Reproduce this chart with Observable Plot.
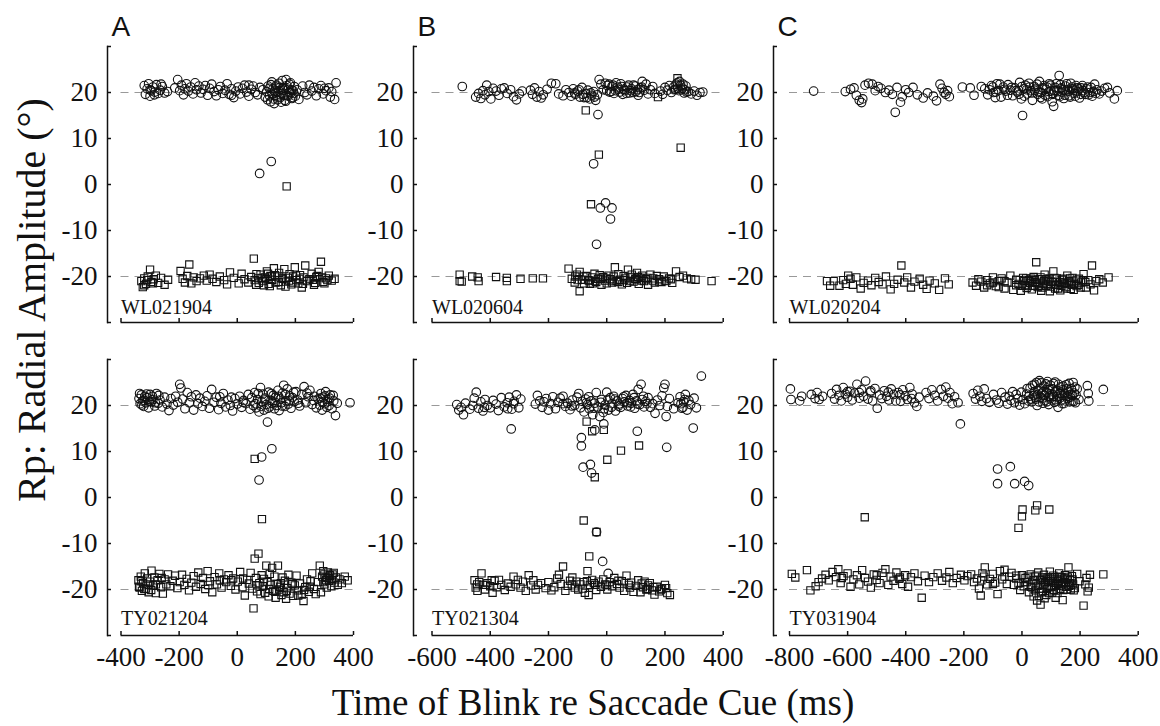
<!DOCTYPE html>
<html>
<head>
<meta charset="utf-8">
<script src="https://cdn.jsdelivr.net/npm/d3@7"></script>
<script src="https://cdn.jsdelivr.net/npm/@observablehq/plot@0.6"></script>
<style>
  html, body { margin: 0; padding: 0; background: #fff; }
  #fig { position: relative; width: 1160px; height: 726px; overflow: hidden; background: #fff;
         font-family: "Liberation Serif", "Times New Roman", serif; color: #111; }
  .panel { position: absolute; }
  .panel svg text { font-family: "Liberation Serif", "Times New Roman", serif; }
  .panel svg text.letter { font-family: "Liberation Sans", Arial, sans-serif; }
  #xlabel { position: absolute; left: 193px; width: 800px; top: 684px; text-align: center;
            font-size: 37px; line-height: 1; white-space: nowrap; }
  #ylabel { position: absolute; left: -268px; top: 280px; width: 600px; height: 40px; line-height: 40px;
            text-align: center; font-size: 40px; white-space: nowrap; transform: rotate(-90deg); }
</style>
</head>
<body>
<div id="fig">
  <div id="xlabel">Time of Blink re Saccade Cue (ms)</div>
  <div id="ylabel">Rp: Radial Amplitude (°)</div>
</div>
<script>
// ---------- data ----------
const yDomain = [-30, 30];
const yTicks = [-30, -20, -10, 0, 10, 20, 30];
const refLevels = [-20, 20];
const panelLetters = ["A", "B", "C"];
const xDomainA = [-400, 400];
const xDomainB = [-600, 400];
const xDomainC = [-800, 400];
const xTicksA = [-400, -200, 0, 200, 400];
const xTicksB = [-600, -400, -200, 0, 200, 400];
const xTicksC = [-800, -600, -400, -200, 0, 200, 400];
const sessionsTop = ["WL021904", "WL020604", "WL020204"];
const sessionsBottom = ["TY021204", "TY021304", "TY031904"];

// Panel A, top (WL021904)
const A1_circles = [[-320,21.5],[-316,19.6],[-310,20.8],[-305,21.9],[-300,19.2],[-296,20.4],[-290,21.2],[-284,20.1],[-278,21.7],[-272,19.8],[-265,20.5],[-258,21.3],[-250,19.9],[-240,20.2],
[-215,21.0],[-205,22.8],[-198,20.4],[-192,21.6],[-185,19.5],[-180,20.8],[-175,21.9],[-168,20.3],[-160,21.2],[-152,19.7],[-145,22.1],[-140,20.6],[-132,21.4],[-125,19.9],[-118,20.7],[-110,21.5],[-102,19.4],[-95,20.9],[-88,21.8],[-80,20.2],[-72,19.3],[-65,20.6],[-58,21.3],[-50,19.8],[-42,20.5],[-35,21.9],[-28,19.6],[-20,20.8],[-12,18.9],[-5,20.3],[3,21.2],[10,19.7],[18,20.9],[25,21.6],[32,20.1],[40,19.2],[48,20.7],[55,21.4],[62,20.0],[70,19.5],[78,21.1],
[88,20.6],[96,19.0],[104,18.4],[110,20.9],[116,21.7],[120,19.6],[124,18.6],[128,20.3],[132,21.2],[136,19.1],[140,20.0],[144,22.0],[148,18.9],[152,19.8],[156,21.0],[160,20.5],[164,18.3],[168,22.8],[172,19.4],[176,20.7],[180,21.8],[184,19.9],[188,18.7],[192,20.4],[196,21.3],[200,19.2],[206,20.6],[212,18.5],
[225,21.4],[232,20.0],[240,19.5],[248,21.6],[256,20.3],[264,21.1],[272,19.3],[280,20.8],[288,21.5],[296,19.7],[305,20.4],[315,21.0],[325,20.2],[335,18.5],[340,22.1],
[101,20.2],[106,21.4],[111,19.3],[115,18.0],[119,22.3],[123,20.8],[127,17.6],[131,19.9],[135,21.6],[139,18.4],[143,20.4],[147,21.1],[151,17.9],[155,22.6],[159,19.4],[163,20.9],[167,18.1],[171,21.5],[175,19.2],[179,20.1],[183,22.1],[187,20.6],[191,18.9],[195,19.8],[-300,20.6],[-285,19.5],[-262,21.8],[-20,19.4],[40,21.6],[300,20.9],[320,19.0],
[77,2.4],[117,5.0]];
const A1_squares = [[-330,-21.0],[-325,-22.3],[-320,-20.4],[-314,-21.6],[-308,-20.0],[-300,-18.5],[-295,-21.2],[-288,-20.6],[-280,-19.8],[-272,-21.4],[-262,-20.3],[-250,-21.8],[-238,-20.7],
[-195,-18.8],[-188,-20.5],[-180,-21.3],[-172,-19.9],[-165,-17.4],[-158,-21.5],[-150,-20.2],[-140,-21.0],[-128,-20.4],[-115,-19.8],[-105,-20.9],[-95,-19.6],[-85,-20.5],[-72,-21.2],[-60,-20.0],[-45,-20.8],[-35,-21.7],[-25,-19.1],[-12,-20.3],
[5,-21.5],[15,-19.4],[25,-20.6],[38,-21.3],[48,-20.1],[57,-16.1],[65,-21.8],[72,-20.4],[80,-19.6],[88,-21.0],[95,-20.2],[102,-18.9],[108,-21.6],[114,-19.9],[120,-20.7],[126,-18.2],[132,-21.3],[138,-20.0],[144,-19.2],[150,-21.9],[156,-20.5],[162,-18.4],[168,-21.1],[174,-20.3],[180,-19.5],[186,-21.7],[192,-20.0],[198,-18.0],[204,-20.8],[210,-21.5],[216,-19.7],[222,-22.4],[228,-20.2],[234,-17.6],[240,-21.0],[248,-20.6],[256,-19.4],[264,-21.8],[272,-20.1],[280,-19.0],[288,-16.8],[296,-21.2],[305,-20.4],[315,-19.8],[325,-20.9],[335,-20.5],
[60,-20.8],[66,-19.5],[74,-21.4],[84,-20.3],[92,-21.9],[100,-20.6],[106,-19.4],[112,-22.1],[118,-20.0],[130,-19.7],[142,-21.2],[154,-20.3],[166,-22.2],[178,-20.9],[190,-21.3],[202,-19.8],[214,-20.5],[226,-21.6],[260,-20.7],[268,-21.4],[276,-19.9],[292,-20.2],[300,-21.5],[310,-20.8],[-320,-21.9],[-310,-20.8],[-290,-21.5],
[170,-0.4]];

// Panel A, bottom (TY021204)
const A2_circles = [[-338,21.5],[-334,20.4],[-330,22.3],[-326,21.0],[-322,19.8],[-318,22.0],[-314,20.6],[-310,21.7],[-305,19.5],[-300,22.4],[-295,20.8],[-290,21.3],[-284,19.9],[-278,22.6],[-272,20.5],[-266,21.2],[-258,19.7],[-250,21.8],[-242,20.3],[-235,18.9],[-228,21.5],[-220,20.1],[-212,22.0],[-205,20.7],[-198,24.6],[-194,23.8],[-188,21.4],[-180,19.3],[-172,22.8],[-165,20.6],[-158,21.9],[-150,19.0],[-142,22.3],[-135,20.4],[-128,21.6],[-120,19.8],[-112,20.9],[-104,22.1],[-96,19.4],[-88,23.5],[-80,20.7],[-72,21.8],[-64,19.1],[-56,20.5],[-48,22.6],[-40,19.7],[-32,21.2],[-24,20.0],[-16,18.8],[-8,21.5],[0,20.3],[8,22.0],[15,19.6],[22,21.1],[30,20.4],[38,22.4],[44,19.2],[50,21.7],[55,20.0],[60,22.8],[65,19.5],[70,21.3],[75,18.6],[80,23.9],[84,20.8],[88,22.5],[92,19.0],[96,21.6],[100,20.2],[104,16.4],[108,22.9],[112,19.7],[116,21.1],[120,20.5],[124,22.2],[128,19.3],[132,21.8],[136,20.0],[140,23.3],[144,18.9],[148,21.4],[152,20.6],[156,22.7],[160,24.4],[164,19.8],[168,21.0],[172,23.6],[176,20.3],[180,22.1],[185,19.4],[190,21.7],[196,20.8],[202,23.0],[208,21.2],[215,19.9],[222,22.4],[230,24.1],[236,20.6],[244,21.9],[250,23.3],[258,20.2],[265,22.0],[272,19.5],[278,21.4],[284,20.1],[288,22.6],[292,19.0],[296,21.8],[300,20.4],[304,23.0],[308,19.6],[312,21.3],[316,20.0],[320,22.3],[326,19.3],[332,21.0],[338,17.8],[344,20.5],[388,20.6],
[-336,22.6],[-328,20.1],[-320,21.1],[-312,22.5],[-302,20.9],[-292,22.0],[-282,20.6],[-270,22.2],[62,20.4],[72,22.6],[82,19.8],[94,21.2],[106,19.4],[118,22.6],[130,20.7],[142,22.0],[154,19.9],[166,22.4],[178,21.0],[194,22.9],[210,20.5],[240,22.7],[262,21.1],[286,21.6],[294,20.7],[302,22.1],[310,20.8],[318,21.6],[330,22.2],[-60,21.9],[-20,21.8],[20,20.7],
[84,8.8],[119,10.6],[75,3.8]];
const A2_squares = [[-340,-18.0],[-336,-19.6],[-332,-17.2],[-328,-20.3],[-324,-18.6],[-318,-16.5],[-314,-19.8],[-310,-17.6],[-305,-20.6],[-300,-18.3],[-295,-15.9],[-290,-19.1],[-285,-17.4],[-280,-20.8],[-274,-18.0],[-268,-16.6],[-262,-19.5],[-256,-20.9],[-250,-17.8],[-244,-18.9],[-238,-16.7],[-230,-19.3],[-222,-18.1],[-214,-17.0],[-206,-19.7],[-198,-18.4],[-190,-16.8],[-182,-19.0],[-174,-17.7],[-166,-20.2],[-158,-18.5],[-150,-17.1],[-142,-19.4],[-134,-16.3],[-126,-18.8],[-118,-17.5],[-110,-19.9],[-102,-16.0],[-94,-18.2],[-86,-20.6],[-78,-17.3],[-70,-18.9],[-62,-16.5],[-54,-19.6],[-46,-17.8],[-38,-18.4],[-30,-16.9],[-22,-19.2],[-14,-17.6],[-6,-20.0],[2,-18.3],[10,-16.2],[18,-19.5],[26,-21.3],[34,-17.9],[40,-18.7],[46,-16.4],[52,-19.8],[56,-24.1],[60,-13.3],[64,-17.5],[68,-20.4],[73,-12.2],[76,-18.6],[80,-21.0],[84,-16.9],[88,-19.3],[92,-17.7],[96,-20.7],[100,-14.8],[104,-18.4],[108,-21.5],[112,-16.6],[116,-19.0],[120,-15.3],[124,-20.3],[128,-17.2],[132,-21.8],[136,-18.8],[140,-14.8],[144,-20.0],[148,-19.4],[152,-21.2],[156,-17.4],[160,-20.6],[164,-18.1],[168,-22.0],[172,-19.7],[176,-16.8],[180,-20.9],[186,-18.5],[192,-21.4],[198,-19.1],[204,-17.0],[210,-20.2],[216,-18.7],[222,-21.1],[228,-22.5],[234,-19.5],[240,-17.8],[246,-20.5],[252,-18.2],[258,-16.5],[264,-19.9],[270,-21.0],[278,-18.4],[284,-14.8],[288,-20.6],[292,-17.2],[296,-16.0],[300,-18.9],[304,-17.4],[308,-19.6],[312,-16.3],[316,-18.1],[320,-17.0],[324,-19.3],[328,-16.7],[334,-18.5],[340,-17.4],[346,-19.0],[352,-17.8],[360,-18.6],[370,-17.2],[380,-18.0],
[-338,-19.4],[-330,-18.2],[-320,-19.9],[-308,-18.9],[-296,-20.1],[-280,-18.9],[-260,-17.5],[70,-19.1],[90,-18.3],[110,-19.9],[130,-20.5],[150,-18.6],[170,-20.3],[190,-18.8],[210,-21.3],[230,-20.1],[250,-19.4],[296,-18.4],[300,-16.7],[306,-18.0],[310,-17.5],[318,-16.9],[326,-18.0],[332,-16.4],[-100,-19.0],[-60,-18.0],[-20,-18.0],[20,-17.6],
[60,8.4],[85,-4.7]];

// Panel B, top (WL020604)
const B1_circles = [[-496,21.3],
[-450,19.0],[-440,19.8],[-432,18.7],[-425,20.4],[-418,19.5],[-412,21.6],[-405,20.2],[-398,18.6],[-390,20.9],[-380,20.3],[-370,19.4],[-362,20.8],[-352,21.0],[-342,19.8],[-330,20.6],[-320,19.1],[-310,18.4],[-300,19.7],[-290,20.3],
[-262,20.5],[-255,19.6],[-248,21.0],[-240,19.0],[-232,20.2],[-225,18.8],[-218,19.5],[-205,20.7],[-190,22.0],[-175,21.9],[-165,19.7],
[-150,19.3],[-140,20.6],[-130,20.0],[-122,19.2],[-115,20.8],[-108,19.6],[-100,20.3],[-92,19.0],[-85,21.1],[-78,18.9],[-72,19.8],[-65,20.5],[-58,18.6],[-52,19.4],[-45,20.2],[-38,18.3],[-32,19.5],[-26,22.8],
[-20,21.8],[-12,20.6],[-5,22.0],[2,21.5],[10,20.1],[18,21.3],[25,19.8],[32,22.1],[40,20.7],[48,21.9],[55,19.6],[62,20.4],[70,21.2],[78,19.9],[85,20.8],[92,21.6],[100,20.2],[108,19.4],[115,21.0],[122,22.4],[128,20.5],[135,21.8],[142,19.7],[150,20.6],[158,21.3],[165,19.8],
[185,20.3],[192,19.6],[200,21.1],[208,20.5],[215,21.5],[222,20.0],[230,21.2],[236,20.7],[242,22.1],[248,20.4],[254,21.6],[260,20.9],[266,19.9],[272,21.4],[280,20.2],[290,19.7],[300,20.3],[310,19.4],[320,20.0],[330,20.1],
[-110,19.9],[-95,20.6],[-82,19.6],[-68,18.9],[-55,19.9],[-42,19.0],[0,20.4],[8,21.8],[15,20.2],[22,21.6],[30,20.4],[38,21.2],[45,20.1],[52,21.3],[60,20.7],[68,19.8],[75,21.6],[82,20.4],[90,20.0],[98,21.4],[105,20.6],[112,20.0],[120,21.2],[232,20.6],[238,21.8],[244,20.9],[250,22.4],[256,20.6],[262,21.8],[268,20.6],[274,20.1],
[-30,15.2],[-45,4.5],[-22,-5.1],[-4,-4.0],[18,-5.1],[13,-7.5],[-35,-13.0]];
const B1_squares = [[-505,-19.6],[-505,-21.0],[-498,-21.1],[-462,-20.0],[-443,-20.2],[-440,-21.0],[-380,-20.1],[-343,-20.3],[-343,-21.0],[-296,-20.5],[-254,-20.4],[-219,-20.4],
[-131,-18.3],[-120,-20.5],[-110,-21.3],[-102,-19.6],[-93,-23.2],[-93,-19.0],[-85,-20.7],[-78,-21.5],[-70,-19.9],[-64,-20.8],[-58,-21.6],[-50,-20.2],[-42,-19.4],[-36,-21.2],[-30,-20.5],[-24,-19.7],[-18,-21.8],[-12,-20.1],[-6,-20.9],[0,-21.5],[6,-19.8],[12,-20.6],[18,-21.3],[24,-20.0],[28,-18.0],[34,-21.0],[40,-19.5],[46,-20.7],[52,-21.7],[58,-19.9],[64,-20.4],[70,-21.4],[73,-18.5],[80,-20.2],[86,-19.6],[92,-21.1],[98,-20.5],[104,-19.2],[110,-21.6],[116,-20.3],[122,-19.8],[128,-21.0],[135,-20.6],[142,-21.8],[150,-19.6],[158,-20.9],[165,-21.3],[172,-19.9],[180,-20.6],[188,-21.2],[196,-20.0],[205,-21.0],[214,-20.4],[225,-21.4],[238,-18.9],[250,-20.1],[262,-19.8],[275,-20.4],[290,-20.6],[305,-20.7],[360,-21.0],
[-100,-20.8],[-80,-20.0],[-60,-20.9],[-40,-21.0],[-20,-20.5],[0,-20.4],[20,-20.9],[40,-21.2],[60,-20.8],[80,-21.0],[100,-20.6],[120,-20.9],[140,-20.3],[160,-20.4],[180,-21.1],[200,-20.9],[220,-20.6],[-108,-20.0],[-48,-21.5],[108,-20.1],
[-72,16.1],[-27,6.5],[-54,-4.3],[254,8.0],[176,19.0],[243,23.1]];

// Panel B, bottom (TY021304)
const B2_circles = [[-515,20.2],[-508,19.0],[-500,19.6],[-492,18.0],[-485,20.5],[-470,19.2],[-455,21.6],[-448,22.9],[-440,19.4],[-432,20.8],[-425,18.8],[-418,21.3],[-410,20.0],[-400,19.5],[-390,21.1],[-380,20.3],[-372,18.9],[-362,21.7],[-352,19.7],[-342,20.6],[-335,21.8],[-326,19.2],[-318,20.9],[-310,22.3],[-302,19.5],[-295,21.4],
[-245,20.3],[-238,22.2],[-230,21.0],[-222,19.6],[-215,20.8],[-208,21.5],[-200,19.0],[-192,20.4],[-185,21.9],[-176,19.3],[-168,20.7],[-160,21.6],[-150,22.0],[-142,19.8],[-134,20.5],[-126,19.1],[-118,21.2],[-110,20.0],[-102,21.8],[-96,22.6],[-90,19.5],[-84,20.9],[-78,18.6],[-72,21.4],[-66,20.2],[-60,19.3],[-54,21.0],[-48,18.0],[-42,20.5],[-36,22.8],[-30,19.7],[-24,17.6],[-18,21.3],[-12,18.5],[-6,20.1],[0,22.9],[6,19.0],[12,21.7],[18,20.4],[24,22.0],[30,18.8],[36,21.0],[42,20.3],[48,19.6],[54,21.5],[60,20.8],[66,22.2],[72,19.9],[78,21.1],[84,20.5],[90,22.4],[96,19.4],[102,21.0],[108,23.5],[114,20.2],[118,24.6],[122,21.3],[128,19.7],[134,20.9],[142,21.7],[150,19.6],[158,20.4],[166,18.3],[174,21.2],[182,20.0],[190,22.1],[196,23.8],[200,24.6],[204,17.6],[208,19.8],[215,21.5],[230,19.3],[245,20.6],[252,21.9],[258,19.4],[264,20.8],[270,22.4],[276,19.0],[282,21.1],[288,20.2],[300,21.6],[308,19.5],
[-70,20.6],[-62,21.9],[-44,19.4],[-20,20.7],[-8,19.3],[4,21.3],[16,19.6],[28,21.4],[40,19.9],[58,21.9],[70,20.6],[82,19.7],[94,21.7],[106,20.3],[126,22.0],[138,20.4],[-460,20.0],[-420,19.6],[-340,19.3],[-320,20.4],[-150,20.4],[-120,19.9],[255,20.4],[262,19.6],[268,21.3],
[325,26.4],[297,15.1],[-328,14.9],[105,14.4],[206,10.9],
[-87,13.0],[-87,11.2],[-81,6.6],[-56,7.2],[-52,5.3],[-41,14.7],[-10,16.0],[-35,-7.5],[-14,-13.9],[5,-16.5]];
const B2_squares = [[-454,-18.0],[-450,-19.6],[-444,-20.3],[-438,-18.4],[-430,-16.5],[-425,-19.0],[-418,-20.0],[-410,-18.6],[-400,-19.3],[-392,-20.7],[-385,-18.1],[-378,-19.5],[-370,-17.9],[-362,-19.0],[-350,-20.1],[-340,-18.7],[-330,-19.4],[-320,-17.2],[-312,-18.9],[-305,-17.9],[-296,-19.6],[-288,-18.3],[-278,-20.3],[-268,-16.9],[-260,-19.1],[-252,-18.0],[-244,-20.0],[-236,-19.0],[-226,-18.6],[-210,-19.7],[-200,-18.4],[-190,-20.2],[-180,-19.5],[-170,-17.6],[-164,-16.8],[-158,-18.8],[-150,-15.0],[-142,-20.3],[-134,-19.2],[-126,-18.1],[-118,-17.4],[-110,-19.6],[-104,-18.3],[-98,-20.0],[-90,-18.9],[-82,-19.8],[-75,-20.7],[-68,-18.2],[-62,-21.2],[-58,-19.0],[-50,-17.9],[-44,-18.6],[-36,-20.1],[-28,-18.3],[-20,-19.4],[-12,-17.8],[-5,-18.9],[2,-20.0],[10,-18.4],[18,-19.3],[26,-17.5],[35,-18.8],[44,-19.6],[52,-18.2],[60,-20.3],[68,-17.0],[76,-19.0],[84,-18.5],[92,-20.5],[100,-19.2],[108,-18.0],[116,-20.6],[124,-19.5],[130,-18.3],[136,-20.0],[142,-19.1],[148,-18.6],[156,-20.2],[164,-21.1],[172,-19.4],[180,-20.4],[190,-19.8],[200,-19.0],[208,-20.8],[217,-21.2],
[-445,-18.9],[-415,-19.0],[-395,-18.0],[-120,-18.9],[-80,-18.4],[-40,-19.0],[0,-19.0],[40,-18.1],[80,-19.6],[120,-18.7],[140,-19.9],[160,-19.5],[186,-20.0],[204,-19.7],
[-69,16.5],[-50,14.4],[-10,14.7],[2,8.2],[49,10.2],[111,11.3],[-41,4.4],[-79,-5.0],[-35,-7.5],[-60,-12.8],[-66,-16.0]];

// Panel C, top (WL020204)
const C1_circles = [[-717,20.3],
[-608,20.2],[-590,20.7],[-578,21.0],[-570,19.4],[-560,18.3],[-552,17.8],[-548,18.6],[-540,21.6],[-528,22.0],[-515,21.8],[-505,20.4],[-495,21.3],[-485,20.9],[-470,20.0],[-458,20.5],[-446,19.6],[-436,15.7],[-430,21.1],[-418,17.9],[-412,19.1],[-400,20.6],[-390,20.0],[-375,21.1],[-360,19.5],[-340,18.8],[-325,19.9],[-305,19.2],[-294,18.2],[-282,21.8],[-275,20.9],[-268,20.0],[-262,19.6],[-256,20.4],[-250,19.1],
[-205,21.2],[-178,21.0],[-165,19.4],[-140,21.3],[-128,20.8],[-118,19.5],[-112,20.6],[-105,21.5],[-98,20.0],[-92,18.9],[-86,21.9],[-80,20.4],[-72,19.0],[-64,21.2],[-56,20.3],[-48,21.7],[-40,20.5],[-32,19.3],[-24,21.0],[-16,20.1],[-8,22.2],[-2,18.6],[2,15.0],[6,20.8],[12,21.6],[18,19.7],[24,22.0],[30,20.4],[36,18.3],[42,21.3],[48,20.9],[54,19.6],[60,22.4],[66,20.0],[70,18.6],[76,21.5],[82,20.7],[88,19.1],[94,21.9],[100,20.3],[104,18.0],[109,17.0],[114,21.1],[120,20.5],[128,23.7],[126,19.4],[132,21.7],[138,20.1],[144,18.7],[150,21.4],[156,20.6],[162,19.3],[168,22.0],[174,20.8],[180,19.8],[186,21.5],[192,20.2],[198,18.8],[204,21.0],[210,20.4],[218,19.6],[226,21.2],[234,20.0],[242,19.2],[250,21.8],[258,20.6],[266,19.7],[274,20.3],[284,20.9],[294,21.1],[302,19.9],[318,18.6],[328,20.4],
[-100,21.2],[-90,20.1],[-76,21.8],[-60,20.7],[-50,19.4],[-36,21.1],[-20,20.4],[-10,19.6],[0,21.3],[8,19.2],[16,20.6],[26,21.2],[34,19.9],[44,20.5],[52,21.8],[58,20.1],[64,18.9],[72,21.0],[80,19.4],[86,21.2],[92,20.2],[98,21.6],[106,19.6],[112,20.4],[118,21.9],[124,20.2],[130,19.1],[136,21.0],[142,20.6],[148,19.4],[154,21.9],[160,20.3],[166,19.0],[172,21.2],[178,20.5],[184,19.2],[190,21.0],[196,20.8],[202,19.6],[208,21.5],[214,20.0],[222,20.8],[230,19.5],[238,21.1],[246,20.2],[254,19.8]];
const C1_squares = [[-671,-21.0],[-660,-22.0],[-648,-21.0],[-628,-22.0],[-615,-20.8],[-606,-21.6],[-598,-19.8],[-590,-20.5],[-582,-21.8],[-570,-20.2],[-555,-22.6],[-545,-21.4],[-530,-20.9],[-518,-21.9],[-505,-20.3],[-493,-21.2],[-480,-21.7],[-468,-20.0],[-452,-22.8],[-440,-21.6],[-428,-20.7],[-415,-17.6],[-405,-21.3],[-395,-20.2],[-382,-22.4],[-370,-21.1],[-352,-20.5],[-340,-21.8],[-328,-22.7],[-318,-20.9],[-300,-21.5],[-285,-22.9],[-265,-20.4],[-252,-21.7],
[-170,-21.3],[-158,-22.0],[-150,-20.6],[-140,-21.1],[-130,-22.4],[-120,-20.8],[-110,-21.5],[-100,-20.2],[-90,-22.1],[-80,-21.0],[-70,-20.4],[-60,-22.6],[-50,-21.3],[-40,-19.8],[-30,-22.9],[-20,-20.7],[-12,-21.6],[-4,-23.1],[4,-20.3],[10,-21.9],[16,-22.5],[22,-20.8],[28,-21.4],[34,-22.8],[40,-20.1],[46,-21.2],[49,-16.9],[54,-22.3],[60,-20.6],[66,-23.1],[72,-21.5],[78,-19.6],[84,-22.0],[90,-20.9],[96,-23.2],[102,-21.2],[108,-18.9],[114,-22.6],[120,-20.4],[126,-21.8],[132,-23.0],[138,-20.7],[144,-21.4],[150,-22.3],[156,-19.8],[162,-21.0],[168,-22.7],[174,-20.3],[180,-21.6],[188,-22.1],[196,-20.5],[204,-21.3],[212,-19.5],[220,-22.4],[228,-20.8],[236,-21.7],[241,-17.6],[248,-23.0],[256,-21.0],[266,-20.6],[278,-21.3],[298,-20.2],
[-20,-21.9],[-8,-20.8],[0,-22.0],[8,-21.0],[14,-20.4],[20,-22.1],[26,-21.0],[32,-20.5],[38,-22.0],[44,-20.8],[52,-21.4],[58,-22.0],[64,-20.2],[70,-22.4],[76,-21.0],[82,-20.6],[88,-21.7],[94,-20.4],[100,-22.2],[106,-21.1],[112,-20.3],[118,-21.8],[124,-22.6],[130,-21.2],[136,-22.0],[142,-20.5],[148,-21.6],[154,-22.6],[160,-21.3],[166,-20.4],[172,-21.8],[178,-22.9],[186,-20.9],[194,-21.8],[202,-22.4],[210,-20.8],[218,-21.2],[-120,-21.9],[-100,-21.3],[-80,-22.3],[-60,-21.0]];

// Panel C, bottom (TY031904)
const C2_circles = [[-797,23.6],[-795,21.3],[-765,21.0],[-758,22.0],[-725,22.4],[-712,21.5],[-705,22.8],[-698,21.3],[-686,22.0],
[-655,22.6],[-645,21.4],[-638,23.5],[-630,22.2],[-622,21.0],[-615,23.9],[-608,22.5],[-600,21.8],[-592,23.1],[-584,21.2],[-576,22.7],[-568,24.6],[-560,21.6],[-552,23.4],[-545,22.0],[-538,25.3],[-530,21.4],[-522,22.9],[-514,21.0],[-506,23.7],[-498,19.4],[-490,22.3],[-482,21.5],[-474,23.2],[-466,22.0],[-458,21.2],[-450,23.6],[-442,22.4],[-434,21.0],[-426,22.8],[-418,20.9],[-410,23.4],[-402,22.1],[-394,21.3],[-386,23.9],[-378,22.5],[-370,20.6],[-362,19.8],[-354,21.8],
[-330,22.8],[-320,21.5],[-310,23.4],[-300,22.2],[-290,21.0],[-278,23.5],[-270,22.0],[-262,24.0],[-255,21.6],[-248,22.8],[-240,20.4],[-232,21.9],[-220,20.6],
[-168,22.6],[-160,21.4],[-152,23.3],[-145,22.0],[-138,20.9],[-130,23.6],[-122,21.5],[-112,20.7],[-98,22.4],[-88,21.2],[-80,20.5],[-70,22.8],[-58,21.8],[-50,20.3],[-44,22.0],[-38,21.1],[-32,23.0],[-26,20.6],[-20,22.4],[-14,21.5],[-8,20.1],[-2,22.9],[4,21.3],[10,20.4],[16,22.5],[22,21.0],[28,23.8],[34,20.8],[40,22.2],[44,24.6],[48,21.4],[52,20.0],[56,23.3],[60,25.4],[64,21.8],[68,22.7],[72,20.5],[76,24.2],[80,21.1],[84,22.9],[88,25.2],[92,20.2],[96,23.5],[100,21.6],[104,22.4],[108,24.8],[112,20.7],[116,23.0],[120,21.9],[124,19.6],[128,22.6],[132,24.0],[136,21.2],[140,23.4],[144,20.4],[148,22.2],[152,24.5],[156,21.5],[160,23.1],[164,20.8],[168,22.4],[172,21.0],[176,25.0],[180,22.7],[184,20.6],[190,23.6],[196,21.3],[225,24.3],[228,22.6],[230,21.0],[280,23.5],
[18,23.7],[24,22.0],[30,21.4],[36,24.4],[42,23.0],[46,21.8],[50,25.0],[54,22.4],[58,20.8],[62,23.8],[66,24.9],[70,21.6],[74,23.0],[78,22.2],[82,24.7],[86,20.8],[90,23.4],[94,22.0],[98,24.4],[102,21.2],[106,23.6],[110,22.0],[114,25.1],[118,21.0],[122,23.2],[126,24.6],[130,21.6],[134,22.6],[138,20.4],[142,24.2],[146,22.6],[150,21.0],[154,23.6],[158,22.0],[162,24.8],[166,21.8],[170,23.6],[174,22.2],[178,20.9],[182,24.0],[186,22.3],[-600,23.0],[-560,22.8],[-520,23.2],[-460,22.9],[-420,22.3],[-380,21.5],
[-212,16.0],[-84,6.2],[-40,6.7],[-84,3.0],[-25,3.0],[9,3.5],[23,2.6]];
const C2_squares = [[-792,-16.6],[-780,-17.4],[-740,-15.8],[-728,-20.2],[-710,-19.3],[-700,-18.4],[-688,-17.6],[-676,-16.8],[-665,-18.0],[-652,-16.2],[-640,-17.3],[-632,-15.6],[-624,-18.6],[-614,-17.1],[-600,-16.5],[-590,-19.4],[-580,-17.8],[-568,-16.9],[-560,-18.9],[-550,-15.8],[-540,-17.5],[-530,-18.3],[-520,-19.6],[-510,-16.7],[-500,-17.9],[-490,-18.6],[-480,-16.4],[-470,-15.6],[-460,-19.0],[-452,-17.2],[-442,-18.1],[-432,-16.3],[-422,-17.7],[-412,-18.8],[-402,-16.9],[-392,-19.4],[-382,-17.3],[-370,-16.5],[-358,-18.2],[-345,-21.8],[-335,-17.0],[-320,-18.4],[-305,-17.3],[-290,-16.5],[-275,-18.1],[-260,-17.4],[-250,-16.2],[-238,-18.6],[-225,-17.5],[-210,-16.8],[-198,-18.0],[-188,-17.1],[-175,-16.7],[-165,-18.4],[-155,-17.6],[-148,-19.8],[-142,-21.3],[-136,-16.5],[-128,-15.2],[-120,-18.9],[-110,-17.7],[-100,-16.6],[-92,-18.5],[-84,-21.0],[-76,-16.0],[-68,-17.8],[-60,-15.7],[-52,-18.8],[-44,-17.2],[-36,-16.4],[-28,-19.0],[-20,-17.6],[-12,-18.7],[-6,-20.1],[0,-16.9],[6,-19.3],[12,-17.5],[18,-18.4],[24,-20.6],[30,-16.7],[36,-19.6],[40,-21.5],[44,-17.2],[48,-18.9],[52,-22.4],[56,-16.3],[60,-19.8],[64,-23.3],[68,-17.9],[72,-20.4],[76,-16.8],[80,-18.6],[84,-21.2],[88,-17.4],[92,-19.5],[96,-16.1],[100,-18.1],[104,-20.7],[108,-17.0],[112,-19.2],[116,-21.8],[120,-17.7],[124,-18.8],[128,-16.5],[132,-19.9],[136,-17.3],[140,-22.3],[144,-18.4],[148,-16.9],[152,-19.4],[156,-17.8],[160,-15.2],[164,-18.6],[168,-20.0],[172,-17.1],[176,-18.9],[182,-19.7],[190,-16.6],[198,-18.2],[212,-23.5],[218,-18.9],[222,-17.5],[226,-20.4],[230,-19.6],[234,-16.8],[280,-16.7],
[10,-18.4],[20,-17.2],[30,-19.4],[40,-18.0],[46,-20.2],[50,-17.0],[54,-19.2],[58,-21.4],[62,-18.0],[66,-20.6],[70,-17.4],[74,-19.0],[78,-21.9],[82,-17.8],[86,-19.9],[90,-18.2],[94,-20.8],[98,-17.4],[102,-19.4],[106,-18.3],[110,-20.1],[114,-17.3],[118,-19.0],[122,-20.8],[126,-18.1],[130,-17.2],[134,-19.1],[138,-18.6],[142,-20.1],[146,-17.6],[150,-18.6],[154,-20.0],[158,-17.4],[162,-19.2],[166,-18.0],[170,-19.0],[174,-17.8],[178,-20.2],[-140,-18.0],[-130,-17.2],[-100,-18.8],[-60,-17.2],[-20,-17.0],[-620,-17.5],[-500,-16.9],[-420,-17.4],
[-541,-4.3],[-12,-6.6],[0,-4.1],[2,-2.6],[46,-2.8],[52,-1.7],[94,-2.6]];

// ---------- layout (styles / geometry only) ----------
const columns = [
  {xDomain: xDomainA, xTicks: xTicksA, left: 0,   width: 380, ml: 107, inset: 13.5, mr: 27},
  {xDomain: xDomainB, xTicks: xTicksB, left: 380, width: 360, ml: 33,  inset: 18.5, mr: 17.3},
  {xDomain: xDomainC, xTicks: xTicksC, left: 740, width: 420, ml: 33,  inset: 16,   mr: 22.3}
];
const rows = [
  {top: 0,   height: 360, mt: 46, mb: 38, labelDy: -9,  sessions: sessionsTop,    data: [[A1_circles, A1_squares], [B1_circles, B1_squares], [C1_circles, C1_squares]], showX: false},
  {top: 340, height: 340, mt: 19, mb: 45, labelDy: -11, sessions: sessionsBottom, data: [[A2_circles, A2_squares], [B2_circles, B2_squares], [C2_circles, C2_squares]], showX: true}
];

const ink = "#111";
const serif = '"Liberation Serif", "Times New Roman", serif';
const fig = document.getElementById("fig");

rows.forEach((row, ri) => {
  columns.forEach((col, ci) => {
    const [circles, squares] = row.data[ci];
    const marks = [
      Plot.ruleY(refLevels, {x1: col.xDomain[0], x2: col.xDomain[1], stroke: "#999", strokeWidth: 1.1, strokeDasharray: "8,6"}),
      Plot.frame({anchor: "left", stroke: ink, strokeWidth: 1.5}),
      Plot.ruleY([yDomain[0]], {x1: col.xDomain[0], x2: col.xDomain[1], stroke: ink, strokeWidth: 1.5}),
      Plot.axisY({ticks: yTicks, tickSize: -4, tickPadding: 14, strokeWidth: 1.5, label: null,
                  fontSize: 27, fontFamily: serif, fill: ink,
                  tickFormat: d => (d === yDomain[0] || d === yDomain[1]) ? "" : String(d)}),
      Plot.axisX({ticks: col.xTicks, tickSize: -4, tickPadding: 15, strokeWidth: 1.5, label: null,
                  fontSize: 27, fontFamily: serif, fill: ink,
                  tickFormat: row.showX ? (d => String(d)) : (() => "")}),
      Plot.dot(circles, {x: d => d[0], y: d => d[1], r: 4.3, stroke: ink, strokeWidth: 1.1, fill: "none"}),
      Plot.dot(squares, {x: d => d[0], y: d => d[1], r: 4.1, symbol: "square", stroke: ink, strokeWidth: 1.1, fill: "none"}),
      Plot.text([row.sessions[ci]], {x: col.xDomain[0], frameAnchor: "bottom", text: d => d, textAnchor: "start",
                  lineAnchor: "bottom", dy: row.labelDy, fontSize: 20, fontFamily: serif, fill: ink})
    ];
    if (ri === 0) {
      marks.push(Plot.text([panelLetters[ci]], {frameAnchor: "top-left", text: d => d, textAnchor: "start",
                  lineAnchor: "bottom", dx: 4, dy: -11, fontSize: 28, fill: ink,
                  fontFamily: '"Liberation Sans", Arial, sans-serif'}));
    }
    const svg = Plot.plot({
      width: col.width,
      height: row.height,
      marginLeft: col.ml,
      marginRight: col.mr,
      marginTop: row.mt,
      marginBottom: row.mb,
      style: {background: "transparent", overflow: "visible", color: ink,
              fontFamily: serif, fontSize: "27px"},
      x: {domain: col.xDomain, insetLeft: col.inset},
      y: {domain: yDomain},
      marks
    });
    svg.querySelectorAll("text").forEach(t => {
      if (/^[ABC]$/.test(t.textContent)) t.classList.add("letter");
    });
    const holder = document.createElement("div");
    holder.className = "panel";
    holder.style.left = col.left + "px";
    holder.style.top = row.top + "px";
    holder.style.width = col.width + "px";
    holder.style.height = row.height + "px";
    holder.appendChild(svg);
    fig.appendChild(holder);
  });
});
</script>
</body>
</html>
